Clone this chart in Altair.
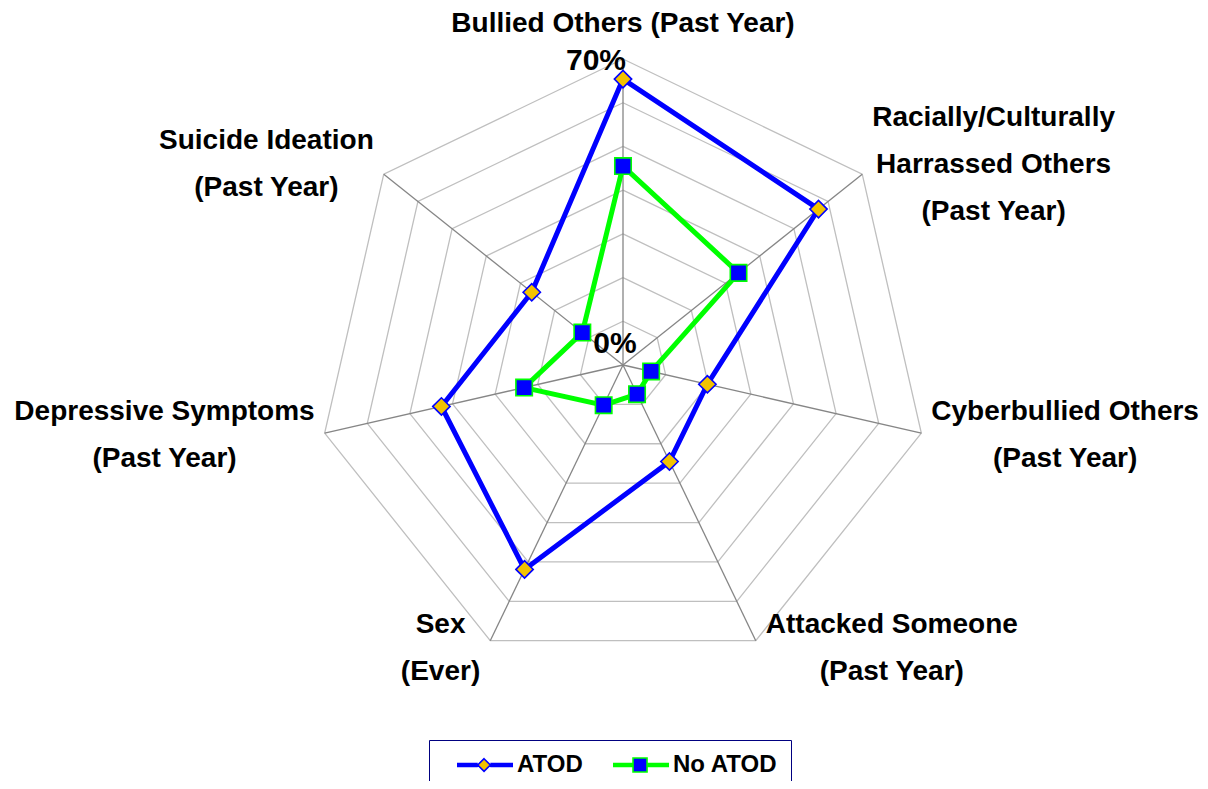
import math
import altair as alt
import pandas as pd

# ---------------- data ----------------
categories = [
    "Bullied Others (Past Year)",
    "Racially/Culturally Harrassed Others (Past Year)",
    "Cyberbullied Others (Past Year)",
    "Attacked Someone (Past Year)",
    "Sex (Ever)",
    "Depressive Symptoms (Past Year)",
    "Suicide Ideation (Past Year)",
]
label_lines = [
    ["Bullied Others (Past Year)"],
    ["Racially/Culturally", "Harrassed Others", "(Past Year)"],
    ["Cyberbullied Others", "(Past Year)"],
    ["Attacked Someone", "(Past Year)"],
    ["Sex", "(Ever)"],
    ["Depressive Symptoms", "(Past Year)"],
    ["Suicide Ideation", "(Past Year)"],
]
series_names = ["ATOD", "No ATOD"]
atod_values = [65.4, 57.2, 19.8, 24.5, 51.9, 42.6, 26.7]
no_atod_values = [45.5, 33.8, 6.6, 7.4, 10.2, 23.2, 11.9]
grid_levels = [10, 20, 30, 40, 50, 60, 70]
axis_min, axis_max = 0, 70
axis_labels = ["0%", "70%"]

# ---------------- layout / style ----------------
FONT = "Liberation Sans, Arial, sans-serif"
W, H = 1192, 773
CX, CY = 615, 357            # chart-pixel position of the radar centre
RADIUS_PX = 306              # pixel radius of the 70% ring
K = RADIUS_PX / axis_max     # pixels per data unit
N = len(categories)

x_dom = [-CX / K, (W - CX) / K]
y_dom = [-(H - CY) / K, CY / K]
xs = alt.Scale(domain=x_dom, nice=False, zero=False)
ys = alt.Scale(domain=y_dom, nice=False, zero=False)

BLUE = "#0000FF"
GREEN = "#00FF00"
GOLD = "#F2C200"

ANGLE = f"datum.idx * 2 * PI / {N}"
X_EXPR = f"datum.value * sin({ANGLE})"
Y_EXPR = f"datum.value * cos({ANGLE})"

# ---------------- tables ----------------
series_rows = []
for name, vals in zip(series_names, [atod_values, no_atod_values]):
    for i in range(N + 1):
        series_rows.append({"series": name, "idx": i, "value": vals[i % N]})
series_df = pd.DataFrame(series_rows)

grid_df = pd.DataFrame(
    [{"level": lv, "idx": i, "value": lv} for lv in grid_levels for i in range(N + 1)]
)
spoke_df = pd.DataFrame(
    [{"idx": i, "value": v} for i in range(N) for v in (axis_min, axis_max)]
)

# Category label placement (computed from the axis geometry and an estimate of text width)
LABEL_SIZE = 28
CW = {" ": 278, "(": 333, ")": 333, "/": 278, "%": 889,
      "A": 722, "B": 722, "C": 722, "D": 722, "E": 667, "H": 722, "I": 278, "N": 722,
      "O": 778, "P": 667, "R": 722, "S": 667, "T": 611, "Y": 667,
      "a": 556, "b": 611, "c": 556, "d": 611, "e": 556, "f": 333, "g": 611, "h": 611,
      "i": 278, "k": 556, "l": 278, "m": 889, "n": 611, "o": 611, "p": 611, "r": 389,
      "s": 556, "t": 333, "u": 611, "v": 556, "w": 778, "x": 556, "y": 556}


def text_w(s, size):
    return sum(CW.get(c, 600) for c in s) / 1000 * size


LINE_H = 47
label_rows = []
for i, lines in enumerate(label_lines):
    a = 2 * math.pi * i / N
    vx, vy = axis_max * math.sin(a), axis_max * math.cos(a)
    s, c = math.sin(a), math.cos(a)
    if abs(s) < 0.05:
        cx_px = 0
        cy_px = -35
    else:
        bw = max(text_w(t, LABEL_SIZE) for t in lines)
        cx_px = math.copysign(10 + bw / 2, s)
        cy_px = -14.8 * c if c > 0 else -9 * c
    nl = len(lines)
    for j, t in enumerate(lines):
        label_rows.append({
            "text": t,
            "lx": vx + cx_px / K,
            "ly": vy - (cy_px + (j - (nl - 1) / 2) * LINE_H) / K,
        })
label_df = pd.DataFrame(label_rows)

axis_df = pd.DataFrame({"text": axis_labels, "value": [axis_min, axis_max]})

X_ENC = alt.X("x:Q", scale=xs, axis=None)
Y_ENC = alt.Y("y:Q", scale=ys, axis=None)

# ---------------- layers ----------------
pts_base = alt.Chart(series_df).transform_filter(f"datum.idx < {N}").transform_calculate(x=X_EXPR, y=Y_EXPR)


def legend_path(marker):
    """Legend symbol: a thick line segment with the series marker in its middle."""
    x0, xm, x1 = 0.43, 4.29, 8.43
    h = 0.9 if marker == "diamond" else 1.0
    segs = "".join(
        f"M{x0},{dy}H{xm - h}M{xm + h},{dy}H{x1}" for dy in (-0.2, 0, 0.2)
    )
    if marker == "diamond":
        shape = f"M{xm},{-h}L{xm + h},0L{xm},{h}L{xm - h},0Z"
    else:
        shape = f"M{xm - h},{-h}H{xm + h}V{h}H{xm - h}Z"
    return segs + shape


leg = alt.Legend(
    title=None, orient="none", legendX=421, legendY=732, direction="horizontal",
    symbolSize=196, symbolStrokeWidth=1.6, symbolOpacity=1,
    labelFont=FONT, labelFontSize=24, labelFontWeight="bold", labelColor="black",
    labelOffset=51, columnPadding=15, padding=13, gridAlign="each",
    strokeColor="#000080", fillColor="white",
)
legend_layer = pts_base.mark_point(filled=True, size=1, strokeWidth=0.1).encode(
    x=X_ENC, y=Y_ENC,
    shape=alt.Shape("series:N", scale=alt.Scale(domain=series_names,
                                                range=[legend_path("diamond"), legend_path("square")]), legend=leg),
    fill=alt.Fill("series:N", scale=alt.Scale(domain=series_names, range=[GOLD, BLUE]), legend=leg),
    stroke=alt.Stroke("series:N", scale=alt.Scale(domain=series_names, range=[BLUE, GREEN]), legend=leg),
)

grid = alt.Chart(grid_df).transform_calculate(x=X_EXPR, y=Y_EXPR).mark_line(
    color="#BFBFBF", strokeWidth=1.3
).encode(x=X_ENC, y=Y_ENC, detail="level:N", order="idx:Q")

spokes = alt.Chart(spoke_df).transform_calculate(x=X_EXPR, y=Y_EXPR).mark_line(
    color="#868686", strokeWidth=1.3
).encode(x=X_ENC, y=Y_ENC, detail="idx:N", order="value:Q")

lines = alt.Chart(series_df).transform_calculate(x=X_EXPR, y=Y_EXPR).mark_line(
    strokeWidth=5
).encode(
    x=X_ENC, y=Y_ENC,
    color=alt.Color("series:N", scale=alt.Scale(domain=series_names, range=[BLUE, GREEN]), legend=None),
    order="idx:Q",
)

atod_pts = pts_base.transform_filter("datum.series == 'ATOD'").mark_point(
    shape="diamond", filled=True, fill=GOLD, stroke=BLUE, strokeWidth=1.6, size=300, opacity=1
).encode(x=X_ENC, y=Y_ENC)
no_pts = pts_base.transform_filter("datum.series == 'No ATOD'").mark_point(
    shape="square", filled=True, fill=BLUE, stroke=GREEN, strokeWidth=1.6, size=270, opacity=1
).encode(x=X_ENC, y=Y_ENC)

cat_labels = alt.Chart(label_df).mark_text(
    font=FONT, fontSize=LABEL_SIZE, fontWeight="bold", color="black",
    align="center", baseline="middle",
).encode(
    x=alt.X("lx:Q", scale=xs, axis=None),
    y=alt.Y("ly:Q", scale=ys, axis=None),
    text="text:N",
)

axis_base = alt.Chart(axis_df).transform_calculate(x="0", y="datum.value")
lab0 = axis_base.transform_filter(f"datum.value == {axis_min}").mark_text(
    font=FONT, fontSize=30, fontWeight="bold", color="black", align="center", baseline="middle", dx=-8, dy=-21
).encode(x=X_ENC, y=Y_ENC, text="text:N")
lab70 = axis_base.transform_filter(f"datum.value == {axis_max}").mark_text(
    font=FONT, fontSize=30, fontWeight="bold", color="black", align="right", baseline="middle", dx=3, dy=2
).encode(x=X_ENC, y=Y_ENC, text="text:N")

chart = alt.layer(
    legend_layer, grid, spokes, lines, atod_pts, no_pts, cat_labels, lab0, lab70
).properties(
    width=W, height=H, autosize=alt.AutoSizeParams(type="none"), padding=0, background="white"
).configure_view(stroke=None)

chart.save("out.html", embed_options={"renderer": "svg", "actions": False})
